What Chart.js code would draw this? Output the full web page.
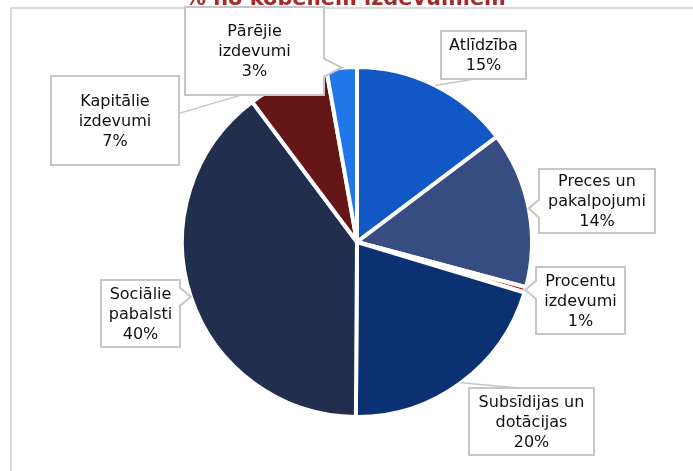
<!DOCTYPE html>
<html>
<head>
<meta charset="utf-8">
<script src="https://cdn.jsdelivr.net/npm/chart.js@4/dist/chart.umd.min.js"></script>
<style>
  html, body { margin: 0; padding: 0; background: #fff; }
  canvas { display: block; }
</style>
</head>
<body>
<canvas id="c" width="693" height="471"></canvas>
<script>
// ---- data ----
const titleText = '% no kopējiem izdevumiem';
const categories = ['Atlīdzība', 'Preces un pakalpojumi', 'Procentu izdevumi', 'Subsīdijas un dotācijas', 'Sociālie pabalsti', 'Kapitālie izdevumi', 'Pārējie izdevumi'];
const shares = [14.7, 14.4, 0.5, 20.4, 39.6, 7.4, 2.8];
const colors = ['#1257C6', '#374D81', '#C00000', '#0B3173', '#222E4E', '#651617', '#2177E9'];

// ---- label box layout (positions only) ----
const boxes = [
  { x: 441, y: 31, w: 85, h: 48, mode: 'line', side: 'bottom', t: 0.4 },
  { x: 539, y: 169, w: 116, h: 64, mode: 'wedge', side: 'left' },
  { x: 536, y: 267, w: 89, h: 67, mode: 'wedge', side: 'left' },
  { x: 469, y: 388, w: 125, h: 67, mode: 'line', side: 'top', t: 0.4 },
  { x: 101, y: 280, w: 79, h: 67, mode: 'wedge', side: 'right' },
  { x: 51, y: 76, w: 128, h: 89, mode: 'line', side: 'right', t: 0.42 },
  { x: 185, y: 7, w: 139, h: 88, mode: 'wedge', side: 'right' }
];

const FONT = '16px "DejaVu Sans", Verdana, sans-serif';
const LINE_H = 20;
const BOX_STROKE = '#C6C6C6';

function wrap(ctx, text, maxW) {
  const words = text.split(' ');
  const lines = [];
  let cur = '';
  for (const w of words) {
    const test = cur ? cur + ' ' + w : w;
    if (cur && ctx.measureText(test).width > maxW) { lines.push(cur); cur = w; }
    else cur = test;
  }
  if (cur) lines.push(cur);
  return lines;
}

const framePlugin = {
  id: 'frame',
  beforeDraw(chart) {
    const ctx = chart.ctx;
    ctx.save();
    ctx.fillStyle = '#fff';
    ctx.fillRect(0, 0, chart.width, chart.height);
    ctx.strokeStyle = '#D9D9D9';
    ctx.lineWidth = 2;
    ctx.beginPath();
    ctx.moveTo(11, chart.height);
    ctx.lineTo(11, 8);
    ctx.lineTo(chart.width, 8);
    ctx.stroke();
    ctx.save();
    ctx.beginPath();
    ctx.rect(0, 0, chart.width, 5);
    ctx.clip();
    ctx.font = 'bold 20.9px "DejaVu Sans", Verdana, sans-serif';
    ctx.fillStyle = '#A52A2A';
    ctx.textAlign = 'left';
    ctx.textBaseline = 'alphabetic';
    ctx.fillText(titleText, 185, 5);
    ctx.restore();
    ctx.restore();
  }
};

const calloutPlugin = {
  id: 'callouts',
  afterDatasetsDraw(chart) {
    const ctx = chart.ctx;
    const meta = chart.getDatasetMeta(0);
    const data = chart.data.datasets[0].data;
    const total = data.reduce((a, b) => a + b, 0);
    ctx.save();
    ctx.font = FONT;
    meta.data.forEach((arc, i) => {
      const p = arc.getProps(['x', 'y', 'startAngle', 'endAngle', 'outerRadius'], true);
      const mid = (p.startAngle + p.endAngle) / 2;
      const tx = p.x + Math.cos(mid) * p.outerRadius;
      const ty = p.y + Math.sin(mid) * p.outerRadius;
      const b = boxes[i];
      const L = b.x, R = b.x + b.w, T = b.y, B = b.y + b.h;
      ctx.lineWidth = 2;
      ctx.strokeStyle = BOX_STROKE;
      ctx.fillStyle = '#fff';
      ctx.beginPath();
      if (b.mode === 'wedge') {
        const yc = Math.min(Math.max(ty, T + 14), B - 14);
        ctx.moveTo(L, T);
        ctx.lineTo(R, T);
        if (b.side === 'right') {
          ctx.lineTo(R, yc - 9);
          ctx.lineTo(tx, ty);
          ctx.lineTo(R, yc + 9);
        }
        ctx.lineTo(R, B);
        ctx.lineTo(L, B);
        if (b.side === 'left') {
          ctx.lineTo(L, yc + 9);
          ctx.lineTo(tx, ty);
          ctx.lineTo(L, yc - 9);
        }
        ctx.closePath();
        ctx.fill();
        ctx.stroke();
      } else {
        let ax, ay;
        if (b.side === 'bottom') { ax = L + b.w * b.t; ay = B; }
        else if (b.side === 'top') { ax = L + b.w * b.t; ay = T; }
        else if (b.side === 'right') { ax = R; ay = T + b.h * b.t; }
        else { ax = L; ay = T + b.h * b.t; }
        ctx.beginPath();
        ctx.lineWidth = 1.5;
        ctx.moveTo(tx, ty);
        ctx.lineTo(ax, ay);
        ctx.stroke();
        ctx.lineWidth = 2;
        ctx.beginPath();
        ctx.rect(L, T, b.w, b.h);
        ctx.fill();
        ctx.stroke();
      }
      const pct = Math.round(data[i] / total * 100) + '%';
      const lines = wrap(ctx, chart.data.labels[i], 112).concat([pct]);
      ctx.fillStyle = '#111';
      ctx.textAlign = 'center';
      ctx.textBaseline = 'middle';
      const cx = L + b.w / 2;
      const cy = T + b.h / 2 + 1;
      const y0 = cy - (lines.length - 1) * LINE_H / 2;
      lines.forEach((ln, k) => ctx.fillText(ln, cx, y0 + k * LINE_H));
    });
    ctx.restore();
  }
};

new Chart(document.getElementById('c'), {
  type: 'pie',
  data: {
    labels: categories,
    datasets: [{
      data: shares,
      backgroundColor: colors,
      borderColor: '#ffffff',
      borderWidth: 4
    }]
  },
  options: {
    responsive: false,
    devicePixelRatio: 1,
    animation: false,
    radius: 175,
    layout: { padding: { left: 182, right: 161, top: 67, bottom: 54 } },
    plugins: {
      legend: { display: false },
      tooltip: { enabled: false },
      title: { display: false }
    }
  },
  plugins: [framePlugin, calloutPlugin]
});
</script>
</body>
</html>
